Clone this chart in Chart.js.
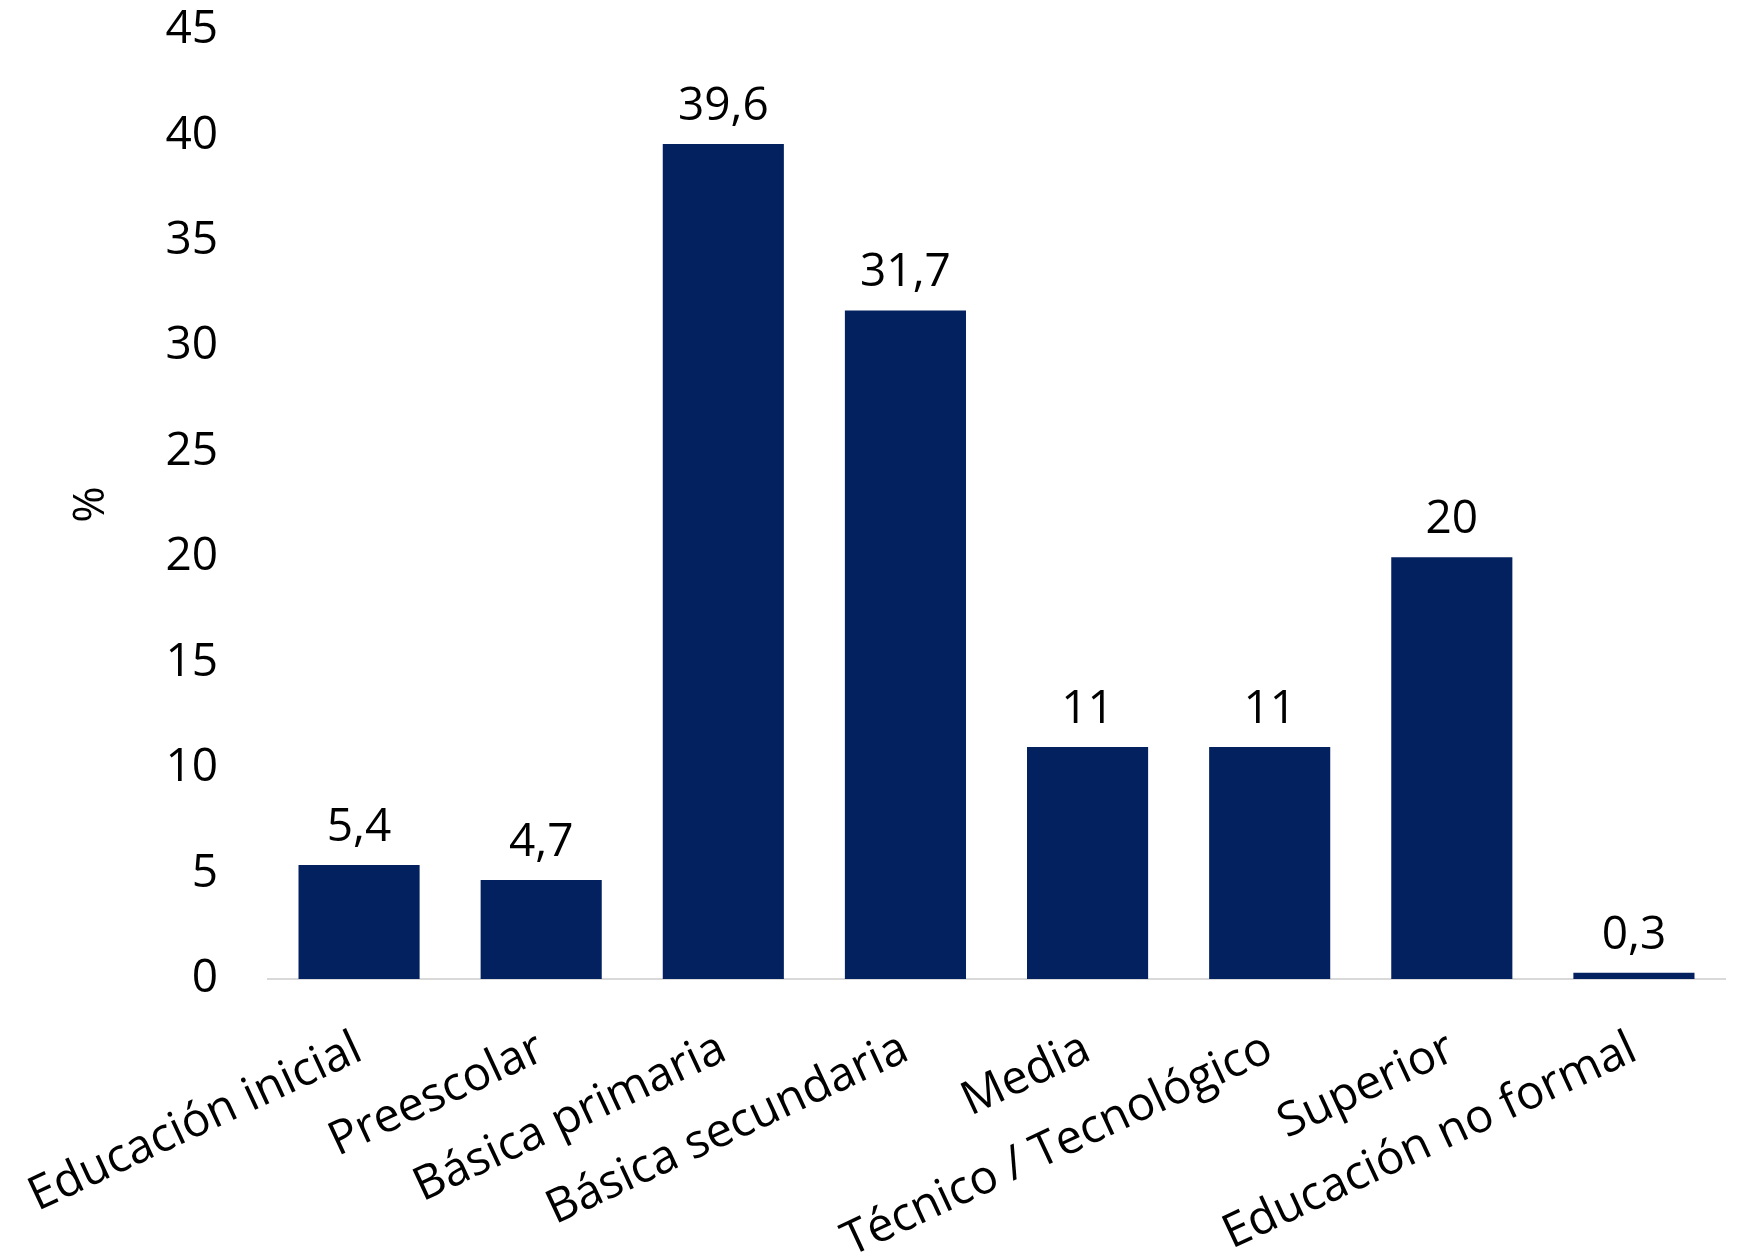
<!DOCTYPE html>
<html>
<head>
<meta charset="utf-8">
<script src="https://cdn.jsdelivr.net/npm/chart.js@4"></script>
<style>
  html, body { margin: 0; padding: 0; background: #fff; }
  #wrap { width: 1737px; height: 1260px; position: relative; }
</style>
</head>
<body>
<div id="wrap"><canvas id="eduChart"></canvas></div>
<script>
// datos
const categories = ['Educación inicial', 'Preescolar', 'Básica primaria', 'Básica secundaria', 'Media', 'Técnico / Tecnológico', 'Superior', 'Educación no formal'];
const values = [5.4, 4.7, 39.6, 31.7, 11, 11, 20, 0.3];
const yTicks = [0, 5, 10, 15, 20, 25, 30, 35, 40, 45];

const FONT = "'Open Sans', 'Noto Sans', sans-serif";

// etiquetas sobre las barras
const valueLabels = {
    id: 'valueLabels',
    afterDatasetsDraw(chart) {
        const ctx = chart.ctx;
        const meta = chart.getDatasetMeta(0);
        ctx.save();
        ctx.font = '46px ' + FONT;
        ctx.fillStyle = '#000';
        ctx.textAlign = 'center';
        ctx.textBaseline = 'alphabetic';
        meta.data.forEach((bar, i) => {
            const txt = String(values[i]).replace('.', ',');
            ctx.fillText(txt, bar.x, bar.y - 24);
        });
        ctx.restore();
    }
};

const config = {
    type: 'bar',
    data: {
        labels: categories,
        datasets: [{
            data: values,
            backgroundColor: '#02215E',
            borderWidth: 0,
            categoryPercentage: 1,
            barPercentage: 0.665
        }]
    },
    options: {
        responsive: true,
        maintainAspectRatio: false,
        animation: false,
        layout: { padding: { top: 30, right: 12, left: 0, bottom: 0 } },
        scales: {
            x: {
                grid: { display: false, drawTicks: false },
                border: { display: true, color: '#d9d9d9', width: 2 },
                ticks: {
                    autoSkip: false,
                    minRotation: 25,
                    maxRotation: 25,
                    padding: 42,
                    color: '#000',
                    font: { family: FONT, size: 47 }
                },
                afterFit(scale) {
                    scale.height = 281;
                    scale.paddingLeft = 0;
                    scale.paddingRight = 0;
                }
            },
            y: {
                min: 0,
                max: 45,
                afterBuildTicks(scale) { scale.ticks = yTicks.map(v => ({ value: v })); },
                grid: { display: false, drawTicks: false },
                border: { display: false },
                ticks: {
                    padding: 50,
                    color: '#000',
                    font: { family: FONT, size: 46 }
                },
                title: {
                    display: true,
                    text: '%',
                    color: '#000',
                    padding: { top: 65, bottom: 0 },
                    font: { family: FONT, size: 44 }
                },
                afterFit(scale) {
                    scale.width = 268;
                    scale.paddingTop = 0;
                    scale.paddingBottom = 0;
                }
            }
        },
        plugins: {
            legend: { display: false },
            tooltip: { enabled: false }
        }
    },
    plugins: [valueLabels]
};

const eduChart = new Chart(document.querySelector('#eduChart'), config);
</script>
</body>
</html>
